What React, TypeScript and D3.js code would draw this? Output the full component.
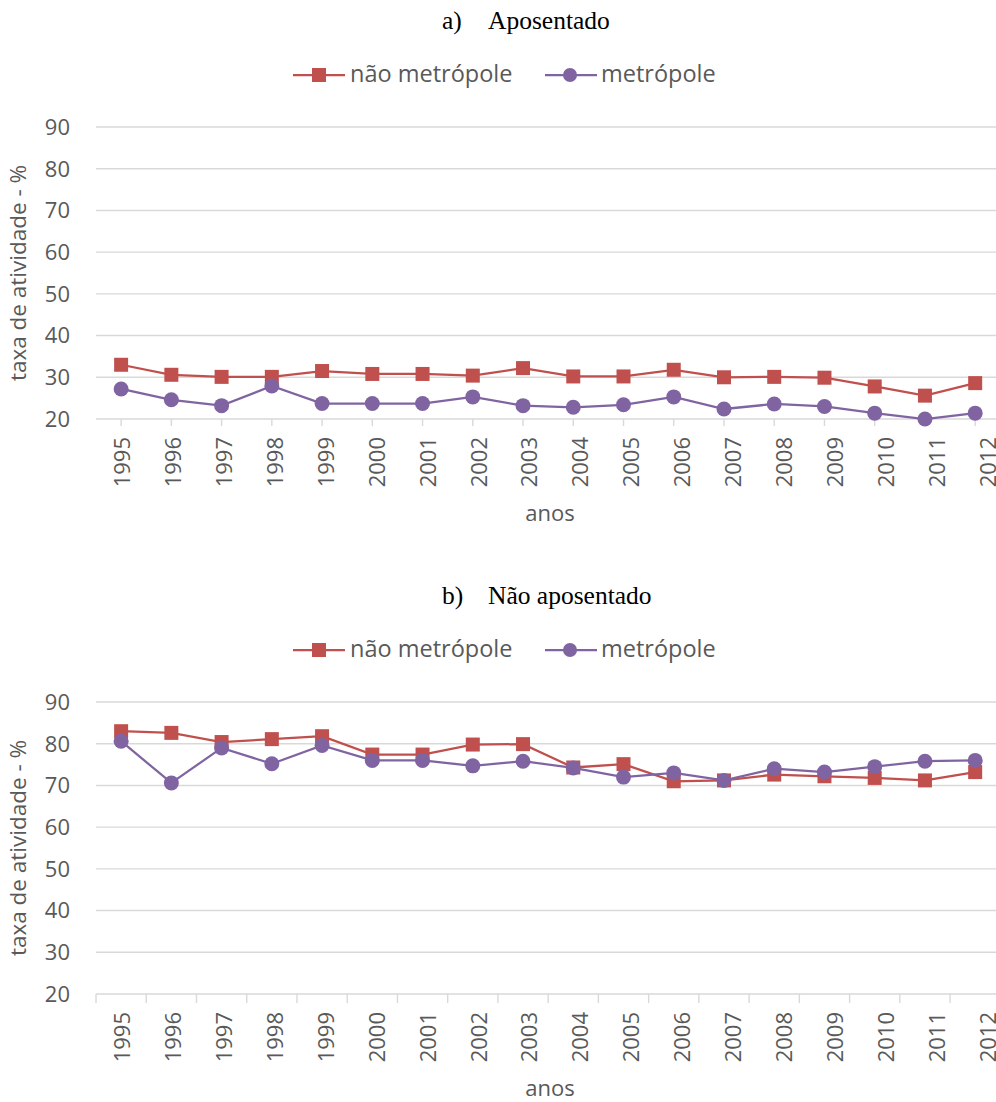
import React from "react";
import * as d3 from "d3";

const years = ["1995","1996","1997","1998","1999","2000","2001","2002","2003","2004","2005","2006","2007","2008","2009","2010","2011","2012"];
const yTicks = [20, 30, 40, 50, 60, 70, 80, 90];

const aNaoMetropole = [33.0,30.6,30.1,30.1,31.5,30.8,30.8,30.4,32.2,30.2,30.2,31.8,30.0,30.1,29.9,27.8,25.6,28.6];
const aMetropole    = [27.2,24.6,23.2,27.9,23.7,23.7,23.7,25.3,23.2,22.8,23.4,25.3,22.4,23.6,23.0,21.4,20.0,21.4];
const bNaoMetropole = [83.0,82.6,80.4,81.1,81.8,77.4,77.4,79.8,79.9,74.3,75.1,71.0,71.2,72.6,72.2,71.8,71.2,73.2];
const bMetropole    = [80.6,70.6,79.0,75.2,79.6,76.0,76.0,74.7,75.8,74.2,72.0,73.0,71.2,74.0,73.2,74.5,75.8,76.0];

const seriesNames = ["não metrópole", "metrópole"];
const RED = "#C0504D";
const PURPLE = "#8064A2";
const TEXT = "#595959";
const GRID = "#D9D9D9";
const SANS = "'Open Sans', sans-serif";
const SERIF = "'Liberation Serif', 'Times New Roman', serif";

type PanelProps = {
  dy: number;
  tag: string;
  title: string;
  nao: number[];
  met: number[];
  ticksBetween: boolean;
};

function Panel({ dy, tag, title, nao, met, ticksBetween }: PanelProps) {
  const x = d3.scaleBand<string>().domain(years).range([96, 1000.3]).padding(0);
  const xl = d3.scalePoint<string>().domain(years).range([122, 988]);
  const y = d3.scaleLinear().domain([20, 90]).range([419, 127]);
  const cx = (yr: string) => (x(yr) as number) + x.bandwidth() / 2;
  const line = d3.line<number>().x((_, i) => cx(years[i])).y((v) => y(v));
  const tickXs = ticksBetween
    ? years.map((yr) => x(yr) as number).concat([x.range()[1]])
    : years.map(cx);
  const tickLen = ticksBetween ? 9 : 7;

  return (
    <g transform={`translate(0,${dy})`}>
      {/* Title */}
      <text x={442} y={29} fontFamily={SERIF} fontSize={25.5} fill="#000">{tag}</text>
      <text x={488} y={29} fontFamily={SERIF} fontSize={25.5} fill="#000">{title}</text>

      {/* Legend */}
      <g>
        <line x1={293} x2={345} y1={75} y2={75} stroke={RED} strokeWidth={2.25} />
        <rect x={312} y={68} width={14} height={14} fill={RED} />
        <text x={350} y={82} fontFamily={SANS} fontSize={23.5} fill={TEXT}>{seriesNames[0]}</text>
        <line x1={545} x2={597} y1={75} y2={75} stroke={PURPLE} strokeWidth={2.25} />
        <circle cx={570} cy={75} r={7} fill={PURPLE} />
        <text x={601} y={82} fontFamily={SANS} fontSize={23.5} fill={TEXT}>{seriesNames[1]}</text>
      </g>

      {/* Gridlines */}
      {yTicks.map((t) => (
        <line key={t} x1={96} x2={1000.3} y1={y(t)} y2={y(t)} stroke={GRID} strokeWidth={1.4} />
      ))}
      {/* Y tick labels */}
      {yTicks.map((t) => (
        <text key={"l" + t} x={70} y={y(t)} dy="0.36em" textAnchor="end" fontFamily={SANS} fontSize={22} fill={TEXT}>{t}</text>
      ))}
      {/* Y title */}
      <text transform={`translate(26,${(y(20) + y(90)) / 2}) rotate(-90)`} textAnchor="middle" fontFamily={SANS} fontSize={22.5} fill={TEXT}>taxa de atividade - %</text>

      {/* X ticks */}
      {tickXs.map((tx, i) => (
        <line key={"t" + i} x1={tx} x2={tx} y1={y(20)} y2={y(20) + tickLen} stroke={GRID} strokeWidth={1.4} />
      ))}
      {/* X labels */}
      {years.map((yr) => (
        <text key={"x" + yr} transform={`translate(${xl(yr)},437) rotate(-90)`} dy="0.36em" textAnchor="end" fontFamily={SANS} fontSize={22} fill={TEXT}>{yr}</text>
      ))}
      <text x={550} y={521} textAnchor="middle" fontFamily={SANS} fontSize={22} fill={TEXT}>anos</text>

      {/* Series */}
      <path d={line(nao) || ""} fill="none" stroke={RED} strokeWidth={2.25} />
      <path d={line(met) || ""} fill="none" stroke={PURPLE} strokeWidth={2.25} />
      {nao.map((v, i) => (
        <rect key={"n" + i} x={cx(years[i]) - 7} y={y(v) - 7} width={14} height={14} fill={RED} />
      ))}
      {met.map((v, i) => (
        <circle key={"m" + i} cx={cx(years[i])} cy={y(v)} r={7.5} fill={PURPLE} />
      ))}
    </g>
  );
}

export default function App() {
  return (
    <>
      <style>{`body{margin:0}`}</style>
      <svg width={996} height={1102} style={{ display: "block", background: "#fff" }}>
        <Panel dy={0} tag="a)" title="Aposentado" nao={aNaoMetropole} met={aMetropole} ticksBetween={false} />
        <Panel dy={575} tag="b)" title="Não aposentado" nao={bNaoMetropole} met={bMetropole} ticksBetween={true} />
      </svg>
    </>
  );
}
